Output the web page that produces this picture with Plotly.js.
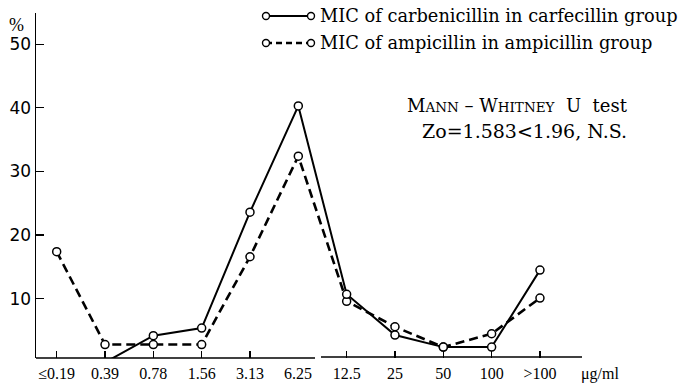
<!DOCTYPE html>
<html><head><meta charset="utf-8">
<script src="https://cdn.plot.ly/plotly-3.0.1.min.js"></script>
<style>html,body{margin:0;padding:0;background:#fff}</style>
</head><body><div id="chart" style="width:682px;height:384px"></div>
<script>
// ---- data ----
const categories = ['≤0.19','0.39','0.78','1.56','3.13','6.25','12.5','25','50','100','>100'];
const carbenicillin = [null, 0, 4.2, 5.4, 23.6, 40.3, 10.7, 4.3, 2.4, 2.4, 14.5];
const ampicillin = [17.4, 2.8, 2.8, 2.8, 16.6, 32.4, 9.6, 5.6, 2.4, 4.5, 10.1];
const seriesNames = ['MIC of carbenicillin in carfecillin group', 'MIC of ampicillin in ampicillin group'];
const yTickVals = [10, 20, 30, 40, 50];
const noTickCategory = '6.25';
const unitLabel = 'μg/ml';
const testLine1 = 'M<span style="font-size:13.5px">ANN</span> – W<span style="font-size:13.5px">HITNEY</span>&nbsp; U&nbsp;&nbsp;test';
const testLine2 = 'Zo=1.583&lt;1.96, N.S.';

// ---- geometry helpers (layout only) ----
const W = 682, H = 384;
const mL = 36, mR = 100, mT = 13, mB = 25.7;
const pw = W - mL - mR, ph = H - mT - mB;
const px = x => (x - mL) / pw;
const py = y => (H - mB - y) / ph;

const markerStyle = {symbol: 'circle', size: 8, color: '#fff', line: {color: '#000', width: 1.5}};
const traces = [
  {x: categories, y: ampicillin, name: seriesNames[1], type: 'scatter', mode: 'lines+markers',
   line: {color: '#000', width: 2.6, dash: '9px,5px'}, marker: markerStyle, cliponaxis: true},
  {x: categories, y: carbenicillin, name: seriesNames[0], type: 'scatter', mode: 'lines+markers',
   line: {color: '#000', width: 2}, marker: markerStyle, cliponaxis: true}
];

const serif = 'DejaVu Serif, serif';
const tickCats = categories.filter(c => c !== noTickCategory);

// legend samples (drawn manually: line with open circles at both ends)
const legRows = [{y: 16, dash: 'solid', w: 2}, {y: 43, dash: '6px,4px', w: 2.4}];
const lx0 = 266, lx1 = 311;
const shapes = [
  // broken x baseline
  {type: 'line', xref: 'paper', yref: 'paper', x0: 0, x1: px(315), y0: 0, y1: 0, line: {color: '#000', width: 1.4}},
  {type: 'line', xref: 'paper', yref: 'paper', x0: px(321), x1: 1, y0: py(357.3), y1: py(357.3), line: {color: '#000', width: 1.4}}
];
legRows.forEach(r => {
  shapes.push({type: 'line', xref: 'paper', yref: 'paper', x0: px(lx0), x1: px(lx1), y0: py(r.y), y1: py(r.y),
               line: {color: '#000', width: r.w, dash: r.dash}});
  [lx0, lx1].forEach(cx => shapes.push({type: 'circle', xref: 'paper', yref: 'paper', xsizemode: 'pixel', ysizemode: 'pixel',
    xanchor: px(cx), yanchor: py(r.y), x0: -3.5, x1: 3.5, y0: -3.5, y1: 3.5, fillcolor: '#fff', line: {color: '#000', width: 1.4}}));
});

const annotations = [
  {text: seriesNames[0], xref: 'paper', yref: 'paper', x: px(318), y: py(16), xanchor: 'left', yanchor: 'middle', showarrow: false,
   font: {family: serif, size: 17.8, color: '#000'}},
  {text: seriesNames[1], xref: 'paper', yref: 'paper', x: px(318), y: py(43), xanchor: 'left', yanchor: 'middle', showarrow: false,
   font: {family: serif, size: 17.8, color: '#000'}},
  {text: testLine1, xref: 'paper', yref: 'paper', x: px(405), y: py(106), xanchor: 'left', yanchor: 'middle', showarrow: false,
   font: {family: serif, size: 18, color: '#000'}},
  {text: testLine2, xref: 'paper', yref: 'paper', x: px(420), y: py(131), xanchor: 'left', yanchor: 'middle', showarrow: false,
   font: {family: serif, size: 19, color: '#000'}},
  {text: '%', xref: 'paper', yref: 'paper', x: px(16), y: py(25), xanchor: 'center', yanchor: 'middle', showarrow: false,
   font: {family: 'Liberation Serif, serif', size: 18, color: '#000'}},
  {text: unitLabel, xref: 'paper', yref: 'paper', x: px(600), y: py(374), xanchor: 'center', yanchor: 'middle', showarrow: false,
   font: {family: 'Liberation Serif, serif', size: 16, color: '#000'}},
  {text: noTickCategory, xref: 'x', yref: 'paper', x: categories.indexOf(noTickCategory), y: py(374), xanchor: 'center', yanchor: 'middle', showarrow: false,
   font: {family: 'Liberation Serif, serif', size: 16, color: '#000'}}
];

const layout = {
  width: W, height: H,
  margin: {l: mL, r: mR, t: mT, b: mB, pad: 0},
  paper_bgcolor: '#fff', plot_bgcolor: '#fff',
  showlegend: false,
  xaxis: {type: 'category', categoryorder: 'array', categoryarray: categories,
          range: [-0.428, 10.87], showline: false, showgrid: false, zeroline: false,
          tickmode: 'array', tickvals: tickCats, ticktext: tickCats,
          ticks: 'inside', ticklen: 7, tickwidth: 1.3, tickcolor: '#000', ticklabelstandoff: 4,
          tickfont: {family: 'Liberation Serif, serif', size: 16, color: '#000'}, fixedrange: true},
  yaxis: {range: [0.69, 54.9], showline: true, linecolor: '#000', linewidth: 1.5, showgrid: false, zeroline: false,
          tickmode: 'array', tickvals: yTickVals, ticks: 'inside', ticklen: 8, tickwidth: 1.3, tickcolor: '#000',
          tickfont: {family: 'DejaVu Sans, sans-serif', size: 17, color: '#000'}, fixedrange: true},
  shapes: shapes,
  annotations: annotations
};

Plotly.newPlot('chart', traces, layout, {staticPlot: true, displayModeBar: false});
</script>
</body></html>
